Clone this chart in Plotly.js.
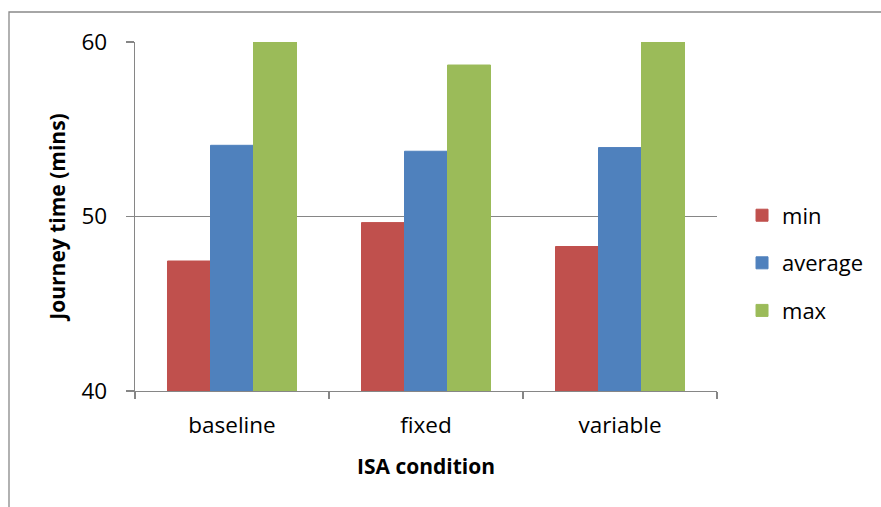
<!DOCTYPE html>
<html>
<head>
<meta charset="utf-8">
<script src="https://cdn.plot.ly/plotly-3.0.1.min.js"></script>
<style>
  html, body { margin: 0; padding: 0; background: #ffffff; }
  #chart { width: 881px; height: 507px; }
</style>
</head>
<body>
<div id="chart"></div>
<script>
const categories = ['baseline', 'fixed', 'variable'];
const minValues = [47.45, 49.65, 48.28];
const averageValues = [54.08, 53.74, 53.95];
const maxValues = [60, 58.68, 60];
const seriesNames = ['min', 'average', 'max'];
const yTickValues = [40, 50, 60];

const colors = ['#C0504D', '#4F81BD', '#9BBB59'];
const seriesValues = [minValues, averageValues, maxValues];

const traces = seriesValues.map((vals, i) => ({
  type: 'bar',
  name: seriesNames[i],
  x: categories,
  y: vals,
  legendgroup: 'g' + i,
  marker: { color: colors[i], line: { color: colors[i], width: 1 } },
  hoverinfo: 'x+y+name'
}));

const gray = '#868686';
const fontFamily = '"Open Sans", "Noto Sans", sans-serif';

const layout = {
  width: 881,
  height: 507,
  margin: { l: 135, r: 164, t: 42, b: 116, pad: 0, autoexpand: false },
  paper_bgcolor: '#ffffff',
  plot_bgcolor: '#ffffff',
  font: { family: fontFamily, size: 22, color: '#000000' },
  barmode: 'group',
  bargap: 0.335,
  bargroupgap: 0,
  showlegend: true,
  legend: {
    x: 1.043, xanchor: 'left',
    y: 0.367, yanchor: 'middle',
    traceorder: 'grouped',
    tracegroupgap: 16,
    font: { family: fontFamily, size: 22, color: '#000000' },
    bgcolor: 'rgba(0,0,0,0)',
    itemwidth: 30
  },
  xaxis: {
    type: 'category',
    showline: true,
    linecolor: gray,
    linewidth: 1.3,
    ticks: 'outside',
    tickson: 'boundaries',
    ticklen: 7,
    tickcolor: gray,
    tickwidth: 1.3,
    ticklabelstandoff: 14,
    showgrid: false,
    zeroline: false,
    tickfont: { family: fontFamily, size: 22.5, color: '#000000' },
    title: {
      text: 'ISA condition',
      font: { family: fontFamily, size: 21, color: '#000000', weight: 'bold' },
      standoff: 20
    }
  },
  yaxis: {
    range: [40, 60],
    tickvals: yTickValues,
    ticktext: yTickValues.map(String),
    showline: true,
    linecolor: gray,
    linewidth: 1.3,
    ticks: 'outside',
    ticklen: 8,
    tickcolor: gray,
    tickwidth: 1.3,
    ticklabelstandoff: 14,
    showgrid: true,
    gridcolor: gray,
    gridwidth: 1.3,
    zeroline: false,
    tickfont: { family: fontFamily, size: 22.5, color: '#000000' },
    title: {
      text: 'Journey time (mins)',
      font: { family: fontFamily, size: 21, color: '#000000', weight: 'bold' },
      standoff: 10
    }
  },
  shapes: [{
    type: 'rect',
    xref: 'paper', yref: 'paper',
    x0: -0.2165, x1: 1.6,
    y0: -1, y1: 1.086,
    line: { color: '#898989', width: 1.3 },
    fillcolor: 'rgba(0,0,0,0)',
    layer: 'below'
  }]
};

Plotly.newPlot('chart', traces, layout, { displayModeBar: false, staticPlot: true });
</script>
</body>
</html>
